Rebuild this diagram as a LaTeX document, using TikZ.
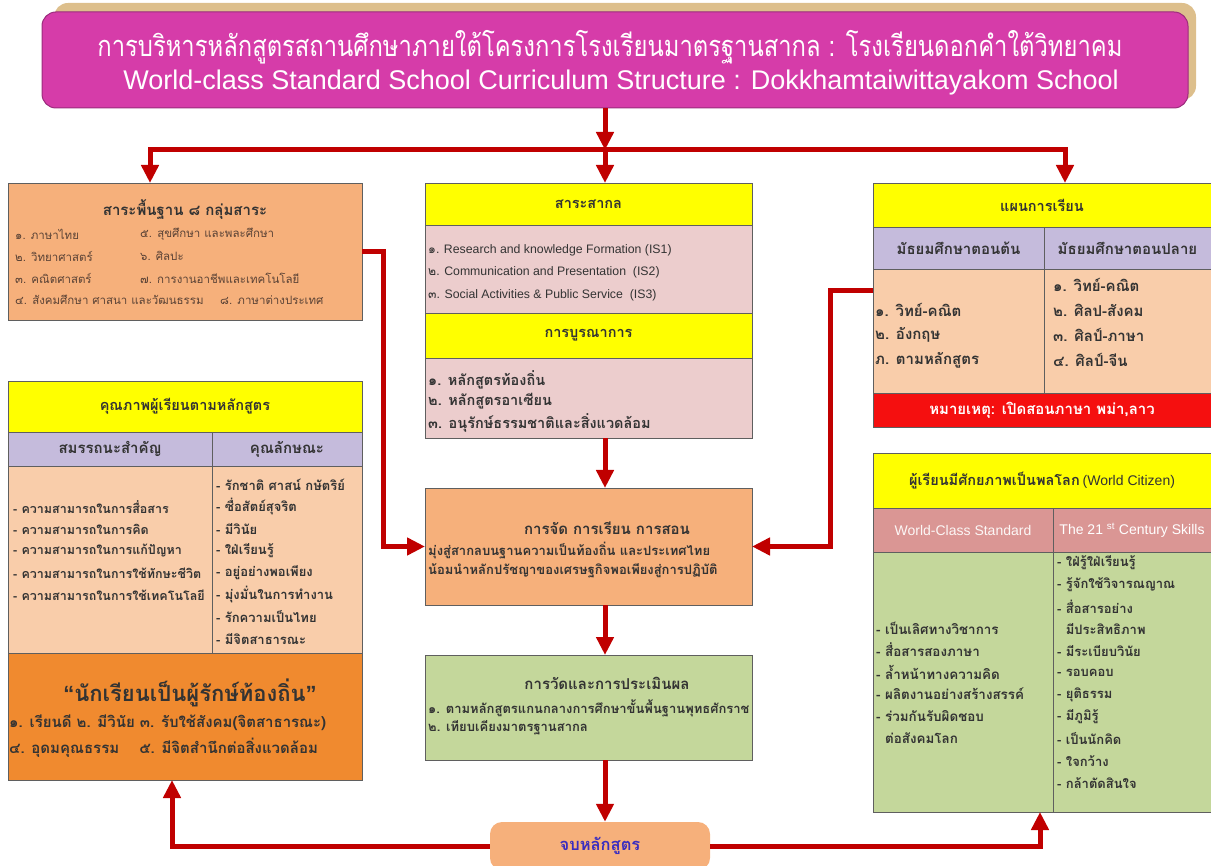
\documentclass[tikz,border=0pt]{standalone}
\usepackage{fontspec}
\setmainfont{Liberation Sans}
\newfontfamily\thai[Script=Thai]{Loma}
\newfontfamily\thaicond[Script=Thai,FakeStretch=0.82]{Loma}
\usetikzlibrary{arrows.meta}
\definecolor{titlepink}{HTML}{D63CA9}
\definecolor{titleedge}{HTML}{9B2C7C}
\definecolor{titleshadow}{HTML}{DDBF8C}
\definecolor{peach}{HTML}{F6B07B}
\definecolor{peachlight}{HTML}{F9CDAA}
\definecolor{hyellow}{HTML}{FFFF00}
\definecolor{rosebody}{HTML}{ECCDCD}
\definecolor{lavender}{HTML}{C5BBDC}
\definecolor{orangedark}{HTML}{F08A2F}
\definecolor{greenbody}{HTML}{C4D79B}
\definecolor{rosehead}{HTML}{DA9694}
\definecolor{notered}{HTML}{F50F0F}
\definecolor{arrowred}{HTML}{C00000}
\definecolor{boxgray}{HTML}{5F5F5F}
\definecolor{textdark}{HTML}{333333}
\definecolor{textbrown}{HTML}{5B4336}
\definecolor{finishblue}{HTML}{3A2DBF}
\tikzset{
  cell/.style={draw=boxgray, line width=0.8pt, inner sep=0pt, outer sep=0pt, anchor=north west},
  headtxt/.style={font=\thai\bfseries\fontsize{14.5}{16}\selectfont, text=textdark},
  subtxt/.style={font=\thai\bfseries\fontsize{15}{17}\selectfont, text=textdark},
  item/.style={anchor=west, inner sep=0pt, font=\thai\bfseries\fontsize{13}{15}\selectfont, text=textdark},
  baseitem/.style={anchor=west, inner sep=0pt, font=\thai\fontsize{11.5}{13}\selectfont, text=textbrown},
  engitem/.style={anchor=west, inner sep=0pt, font=\fontsize{12.3}{14}\selectfont, text=textdark},
  flow/.style={draw=arrowred, line width=5pt, -{Triangle[length=18pt,width=17pt]}},
}
\begin{document}
\begin{tikzpicture}[x=1pt,y=-1pt]
\useasboundingbox (0,0) rectangle (1211,866);
% title
\fill[titleshadow, rounded corners=14pt] (54,3) rectangle (1196,100);
\node[draw=titleedge, line width=1pt, fill=titlepink, rounded corners=14pt, minimum width=1146, minimum height=96, inner sep=0pt] (title) at (615,60) {};
\node[text=white, font=\thaicond\fontsize{29}{32}\selectfont] (titlethai) at (610,47) {การบริหารหลักสูตรสถานศึกษาภายใต้โครงการโรงเรียนมาตรฐานสากล : โรงเรียนดอกคำใต้วิทยาคม};
\node[text=white, font=\fontsize{27}{30}\selectfont] (titleeng) at (621,83) {World-class Standard School Curriculum Structure : Dokkhamtaiwittayakom School};

% left: basic subjects
\node[cell, fill=peach, minimum width=354, minimum height=137] (base) at (8,183) {};
\node[headtxt, font=\thai\bfseries\fontsize{15}{17}\selectfont] (basetitle) at (185,210) {สาระพื้นฐาน  ๘ กลุ่มสาระ};
\foreach \txt [count=\i from 0] in {๑. ภาษาไทย, ๒. วิทยาศาสตร์, ๓. คณิตศาสตร์, ๔. สังคมศึกษา ศาสนา  และวัฒนธรรม}
  \node[baseitem] (basel\i) at (15,234+22*\i) {\txt};
\foreach \txt [count=\i from 0] in {๕. สุขศึกษา และพละศึกษา, ๖. ศิลปะ, ๗. การงานอาชีพและเทคโนโลยี}
  \node[baseitem] (baser\i) at (140,234+22*\i) {\txt};
\node[baseitem] (baser3) at (220,300) {๘. ภาษาต่างประเทศ};

% centre: international subjects
\node[cell, fill=hyellow, minimum width=327, minimum height=42, headtxt] (intlhead) at (425,183) {สาระสากล};
\node[cell, fill=rosebody, minimum width=327, minimum height=88] (intlbody) at (425,225) {};
\foreach \num/\txt [count=\i from 0] in {๑/Research and knowledge Formation (IS1), ๒/Communication and Presentation~ (IS2), ๓/Social Activities \& Public Service~ (IS3)}
  \node[engitem] (intl\i) at (428,250+22.5*\i) {{\thai\num}. \txt};
\node[cell, fill=hyellow, minimum width=327, minimum height=45, headtxt] (integhead) at (425,313) {การบูรณาการ};
\node[cell, fill=rosebody, minimum width=327, minimum height=80] (integbody) at (425,358) {};
\foreach \txt [count=\i from 0] in {๑. หลักสูตรท้องถิ่น, ๒. หลักสูตรอาเซียน, ๓. อนุรักษ์ธรรมชาติและสิ่งแวดล้อม}
  \node[item, font=\thai\bfseries\fontsize{14.5}{16}\selectfont] (integ\i) at (428,380+21.5*\i) {\txt};

% centre: teaching
\node[cell, fill=peach, minimum width=327, minimum height=117] (teach) at (425,488) {};
\node[headtxt, font=\thai\bfseries\fontsize{15}{17}\selectfont] (teachtitle) at (607,528) {การจัด การเรียน การสอน};
\node[item] (teach0) at (428,551) {มุ่งสู่สากลบนฐานความเป็นท้องถิ่น และประเทศไทย};
\node[item] (teach1) at (428,571) {น้อมนำหลักปรัชญาของเศรษฐกิจพอเพียงสู่การปฏิบัติ};

% centre: assessment
\node[cell, fill=greenbody, minimum width=327, minimum height=105] (assess) at (425,655) {};
\node[headtxt, font=\thai\bfseries\fontsize{15}{17}\selectfont] (assesstitle) at (607,683) {การวัดและการประเมินผล};
\node[item] (assess0) at (428,708) {๑. ตามหลักสูตรแกนกลางการศึกษาขั้นพื้นฐานพุทธศักราช};
\node[item] (assess1) at (428,728) {๒. เทียบเคียงมาตรฐานสากล};

% finish
\node[fill=peach, rounded corners=12pt, minimum width=220, minimum height=48, text=finishblue, font=\thai\bfseries\fontsize{16.5}{18}\selectfont] (finish) at (600,846) {จบหลักสูตร};

% right: study plan
\node[cell, fill=hyellow, minimum width=338, minimum height=44, headtxt] (planhead) at (873,183) {แผนการเรียน};
\node[cell, fill=lavender, minimum width=171, minimum height=42, subtxt] (lowsub) at (873,227) {มัธยมศึกษาตอนต้น};
\node[cell, fill=lavender, minimum width=167, minimum height=42, subtxt] (uppsub) at (1044,227) {มัธยมศึกษาตอนปลาย};
\node[cell, fill=peachlight, minimum width=171, minimum height=124] (lowbody) at (873,269) {};
\node[cell, fill=peachlight, minimum width=167, minimum height=124] (uppbody) at (1044,269) {};
\foreach \txt [count=\i from 0] in {๑. วิทย์-คณิต, ๒. อังกฤษ, ภ. ตามหลักสูตร}
  \node[item, font=\thai\bfseries\fontsize{15}{17}\selectfont] (low\i) at (875,310+25*\i) {\txt};
\foreach \txt [count=\i from 0] in {๑. วิทย์-คณิต, ๒. ศิลป-สังคม, ๓. ศิลป์-ภาษา, ๔. ศิลป์-จีน}
  \node[item, font=\thai\bfseries\fontsize{15}{17}\selectfont] (upp\i) at (1053,285+25*\i) {\txt};
\node[cell, fill=notered, minimum width=338, minimum height=34, subtxt, text=white] (note) at (873,393) {หมายเหตุ: เปิดสอนภาษา พม่า,ลาว};

% left: learner quality
\node[cell, fill=hyellow, minimum width=354, minimum height=51, headtxt] (qualhead) at (8,381) {คุณภาพผู้เรียนตามหลักสูตร};
\node[cell, fill=lavender, minimum width=204, minimum height=34, subtxt] (compsub) at (8,432) {สมรรถนะสำคัญ};
\node[cell, fill=lavender, minimum width=150, minimum height=34, subtxt] (charsub) at (212,432) {คุณลักษณะ};
\node[cell, fill=peachlight, minimum width=204, minimum height=187] (compbody) at (8,466) {};
\node[cell, fill=peachlight, minimum width=150, minimum height=187] (charbody) at (212,466) {};
\foreach \txt [count=\i from 0] in {ความสามารถในการสื่อสาร, ความสามารถในการคิด, ความสามารถในการแก้ปัญหา, ความสามารถในการใช้ทักษะชีวิต, ความสามารถในการใช้เทคโนโลยี}
  \node[item, font=\thai\bfseries\fontsize{12.5}{14}\selectfont] (comp\i) at (13,507+22*\i) {- \txt};
\foreach \txt [count=\i from 0] in {รักชาติ ศาสน์  กษัตริย์, ซื่อสัตย์สุจริต, มีวินัย, ใฝ่เรียนรู้, อยู่อย่างพอเพียง, มุ่งมั่นในการทำงาน, รักความเป็นไทย, มีจิตสาธารณะ}
  \node[item] (char\i) at (216,485+22*\i) {- \txt};
\node[cell, fill=orangedark, minimum width=354, minimum height=127] (local) at (8,653) {};
\node[headtxt, font=\thai\bfseries\fontsize{22}{24}\selectfont] (localtitle) at (190,693) {{\rmfamily “}นักเรียนเป็นผู้รักษ์ท้องถิ่น{\rmfamily ”}};
\node[item, font=\thai\bfseries\fontsize{15}{17}\selectfont] (local0) at (9,723) {๑. เรียนดี ๒.  มีวินัย ๓.  รับใช้สังคม(จิตสาธารณะ)};
\node[item, font=\thai\bfseries\fontsize{15}{17}\selectfont] (local1) at (9,748) {๔. อุดมคุณธรรม \quad ๕.  มีจิตสำนึกต่อสิ่งแวดล้อม};

% right: world citizen
\node[cell, fill=hyellow, minimum width=338, minimum height=55, text=textdark] (cithead) at (873,453) {{\thai\bfseries\fontsize{14.5}{16}\selectfont ผู้เรียนมีศักยภาพเป็นพลโลก} {\fontsize{14}{16}\selectfont (World Citizen)}};
\node[cell, fill=rosehead, minimum width=180, minimum height=44, text=white!92!rosehead, font=\fontsize{14}{16}\selectfont] (wcsub) at (873,508) {World-Class Standard};
\node[cell, fill=rosehead, minimum width=158, minimum height=44, text=white, font=\fontsize{14}{16}\selectfont] (skillsub) at (1053,508) {The 21 \textsuperscript{st} Century Skills};
\node[cell, fill=greenbody, minimum width=180, minimum height=260] (wcbody) at (873,552) {};
\node[cell, fill=greenbody, minimum width=158, minimum height=260] (skillbody) at (1053,552) {};
\foreach \txt [count=\i from 0] in {- เป็นเลิศทางวิชาการ, - สื่อสารสองภาษา, - ล้ำหน้าทางความคิด, - ผลิตงานอย่างสร้างสรรค์, - ร่วมกันรับผิดชอบ, \phantom{- }ต่อสังคมโลก}
  \node[item, font=\thai\bfseries\fontsize{13.4}{15}\selectfont] (wc\i) at (876,628+22*\i) {\txt};
\foreach \txt [count=\i from 0] in {- ใฝ่รู้ใฝ่เรียนรู้, - รู้จักใช้วิจารณญาณ, - สื่อสารอย่าง, \phantom{- }มีประสิทธิภาพ, - มีระเบียบวินัย, - รอบคอบ, - ยุติธรรม, - มีภูมิรู้, - เป็นนักคิด, - ใจกว้าง, - กล้าตัดสินใจ}
  \node[item] (skill\i) at (1057,563+22*\i) {\txt};

% connectors
\coordinate (split) at (605,150);
\coordinate (splitL) at (150,150);
\coordinate (splitR) at (1065,150);
\draw[flow] (title.south -| split) -- (split);
\draw[flow] (split) -- (splitL) -- (splitL |- base.north);
\draw[flow] (split) -- (splitR) -- (splitR |- planhead.north);
\draw[flow] (split) -- (split |- intlhead.north);
\draw[flow] (base.east) -- ++(21,0) |- (teach.west);
\draw[flow] ([yshift=40pt]lowbody.west) -- ++(-43,0) |- (teach.east);
\draw[flow] (integbody.south -| split) -- (teach.north -| split);
\draw[flow] (teach.south -| split) -- (assess.north -| split);
\draw[flow] (assess.south -| split) -- (finish.north -| split);
\draw[flow] (finish.west) -| ([xshift=-13pt]local.south);
\draw[flow] (finish.east) -| ([xshift=-13pt]skillbody.south west);
\end{tikzpicture}
\end{document}
